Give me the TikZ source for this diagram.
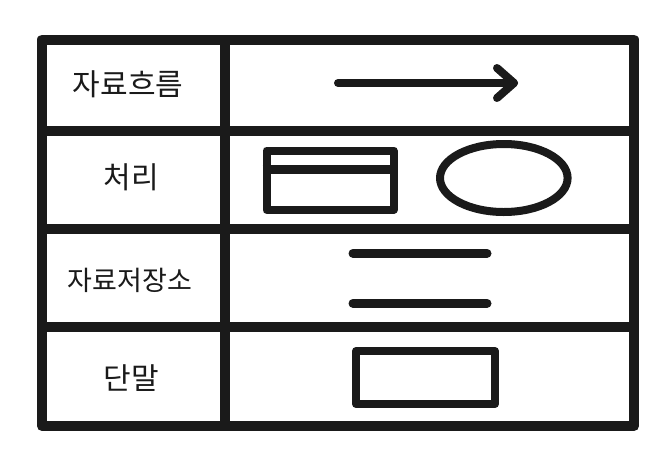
\documentclass[tikz,border=0pt]{standalone}
\usepackage{fontspec}
\usetikzlibrary{shapes.geometric}
\newfontfamily\krfont{Noto Sans CJK KR}
\definecolor{ink}{HTML}{1A1A1A}
\begin{document}
\begin{tikzpicture}[x=1pt,y=-1pt,
  frame/.style={draw=ink,line width=10pt,line join=round},
  sym/.style={draw=ink,line width=8pt,line join=round},
  bar/.style={draw=ink,line width=9pt,line cap=round},
  lbl/.style={text=ink,inner sep=0pt,font=\krfont\fontsize{30}{30}\selectfont}]
\useasboundingbox (0,0) rectangle (670,464);
\fill[white] (0,0) rectangle (670,464);
% table
\draw[frame] (42,39.5) rectangle (634,426);
\draw[frame] (225,39.5) -- (225,426);
\draw[frame] (42,131) -- (634,131);
\draw[frame] (42,229) -- (634,229);
\draw[frame] (42,326.5) -- (634,326.5);
% labels
\node[lbl] (flow) at (128,84) {자료흐름};
\node[lbl] (proc) at (131,177) {처리};
\node[lbl,font=\krfont\fontsize{27}{27}\selectfont] (store) at (130,280) {자료저장소};
\node[lbl] (term) at (131,378) {단말};
% data flow arrow
\coordinate (a1) at (338,83);
\coordinate (a2) at (514,83);
\coordinate (h1) at (497,68);
\coordinate (h2) at (497,98);
\draw[sym,line cap=round] (a1) -- (a2);
\draw[sym,line cap=round] (h1) -- (a2) -- (h2);
% process symbols
\node[sym,minimum width=127pt,minimum height=59.5pt,inner sep=0pt] (pbox) at (330,180.25) {};
\draw[draw=ink,line width=9pt] (pbox.west |- 0,169.3) -- (pbox.east |- 0,169.3);
\node[sym,ellipse,minimum width=127.6pt,minimum height=68pt,inner sep=0pt] (pell) at (503.8,178) {};
% data store
\coordinate (s1) at (353,253.3);
\coordinate (s2) at (487,253.3);
\coordinate (s3) at (353,303.3);
\coordinate (s4) at (487,303.3);
\draw[bar] (s1) -- (s2);
\draw[bar] (s3) -- (s4);
% terminal
\node[sym,minimum width=139pt,minimum height=53pt,inner sep=0pt] (tbox) at (425.5,377.5) {};
\end{tikzpicture}
\end{document}
